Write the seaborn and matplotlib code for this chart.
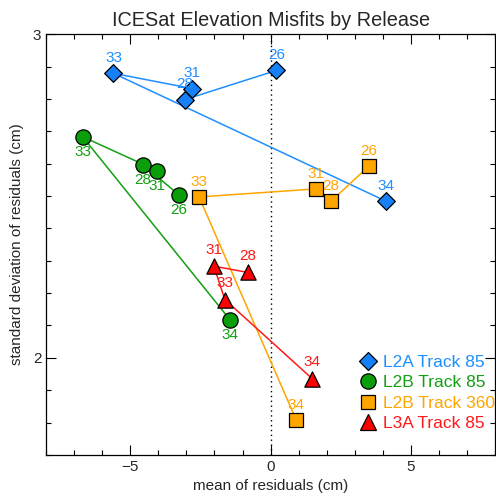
import matplotlib
matplotlib.use("Agg")
import matplotlib.pyplot as plt
from matplotlib.ticker import MultipleLocator, FixedLocator
from matplotlib.lines import Line2D
import seaborn as sns
import pandas as pd

# ---- data ----
releases_l2a = [26, 28, 31, 33, 34]
mean_l2a = [0.21, -3.05, -2.80, -5.60, 4.11]
std_l2a = [2.888, 2.798, 2.832, 2.879, 2.484]

releases_l2b85 = [26, 28, 31, 33, 34]
mean_l2b85 = [-3.26, -4.54, -4.04, -6.70, -1.45]
std_l2b85 = [2.503, 2.596, 2.578, 2.683, 2.118]

releases_l2b360 = [26, 28, 31, 33, 34]
mean_l2b360 = [3.51, 2.16, 1.63, -2.55, 0.92]
std_l2b360 = [2.593, 2.484, 2.522, 2.497, 1.807]

releases_l3a = [28, 31, 33, 34]
mean_l3a = [-0.82, -2.02, -1.63, 1.49]
std_l3a = [2.264, 2.283, 2.180, 1.935]

series_names = ["L2A Track 85", "L2B Track 85", "L2B Track 360", "L3A Track 85"]

sns.set_style("ticks")
plt.rcParams['font.family'] = ['Liberation Sans', 'DejaVu Sans']

fig = plt.figure(figsize=(4.96, 4.95), dpi=100)
ax = fig.add_axes([0.093, 0.081, 0.905, 0.85])

styles = [
    dict(marker="D", ms=9, color="#1E8FFF", face="#1580F8", label_dy=11),
    dict(marker="o", ms=11, color="#12A012", face="#0A9F0A", label_dy=-11),
    dict(marker="s", ms=10, color="#FFA500", face="#FFA500", label_dy=11),
    dict(marker="^", ms=11, color="#FF1A1A", face="#FF0000", label_dy=12),
]
data = [
    (releases_l2a, mean_l2a, std_l2a),
    (releases_l2b85, mean_l2b85, std_l2b85),
    (releases_l2b360, mean_l2b360, std_l2b360),
    (releases_l3a, mean_l3a, std_l3a),
]

ax.axvline(0, color="black", linestyle=(0, (1, 2.5)), linewidth=1, zorder=1)

handles = []
for name, (rel, mx, sy), st in zip(series_names, data, styles):
    df = pd.DataFrame({"release": rel, "mean": mx, "std": sy})
    sns.lineplot(data=df, x="mean", y="std", sort=False, color=st["color"],
                 linewidth=1.1, ax=ax, zorder=2, legend=False)
    sns.scatterplot(data=df, x="mean", y="std", marker=st["marker"],
                    s=st["ms"] ** 2, color=st["face"], edgecolor="black",
                    linewidth=0.9, ax=ax, zorder=3, legend=False)
    for r, x, y in zip(rel, mx, sy):
        ax.annotate(str(r), (x, y), xytext=(0, st["label_dy"]),
                    textcoords="offset points", ha="center", va="center",
                    color=st["color"], fontsize=11, zorder=4)
    handles.append(Line2D([], [], linestyle="none", marker=st["marker"],
                          markersize=st["ms"], markerfacecolor=st["face"],
                          markeredgecolor="black", markeredgewidth=0.9,
                          label=name))

leg = ax.legend(handles=handles, loc="lower right", frameon=False,
                fontsize=12.5, handletextpad=0.25, borderaxespad=0,
                bbox_to_anchor=(1.015, 0.04),
                labelspacing=0.3, handlelength=1.2,
                labelcolor=[s["color"] for s in styles])

ax.set_xlim(-8, 8)
ax.set_ylim(1.7, 3.0)
ax.xaxis.set_major_locator(FixedLocator([-5, 0, 5]))
ax.xaxis.set_minor_locator(MultipleLocator(1))
ax.yaxis.set_major_locator(FixedLocator([2, 3]))
ax.yaxis.set_minor_locator(MultipleLocator(0.1))
ax.tick_params(which="both", direction="in", top=True, right=True,
               labelsize=11, width=0.8, color="black")
ax.tick_params(which="major", length=7)
ax.tick_params(which="minor", length=3.5)
for sp in ax.spines.values():
    sp.set_linewidth(0.9)
    sp.set_color("black")

ax.set_xlabel("mean of residuals (cm)", fontsize=11)
ax.set_ylabel("standard deviation of residuals (cm)", fontsize=11, labelpad=6)
ax.set_title("ICESat Elevation Misfits by Release", fontsize=14.3, pad=6)

fig.savefig("out.png", dpi=100)
